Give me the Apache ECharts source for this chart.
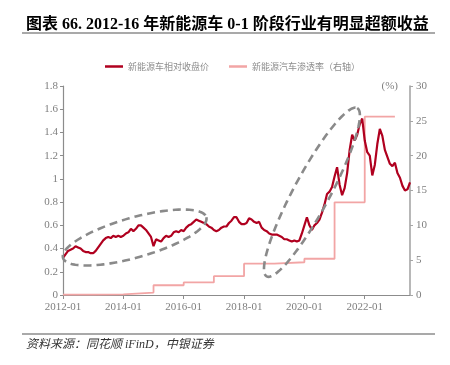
<!DOCTYPE html>
<html>
<head>
<meta charset="utf-8">
<script src="https://cdn.jsdelivr.net/npm/echarts@6/dist/echarts.min.js"></script>
<style>
  html, body { margin: 0; padding: 0; background: #fff; }
  #chart { width: 450px; height: 365px; }
</style>
</head>
<body>
<div id="chart"></div>
<script>
// x ticks every two years
const tickLabels = ['2012-01', '2014-01', '2016-01', '2018-01', '2020-01', '2022-01'];

// relative closing price, month by month from 2012-01 to 2023-07
const relPrice = [
  0.32, 0.35, 0.38, 0.39, 0.40, 0.42, 0.41, 0.40, 0.38, 0.37, 0.37, 0.36,
  0.36, 0.38, 0.41, 0.44, 0.47, 0.49, 0.50, 0.49, 0.51, 0.50, 0.51, 0.50,
  0.51, 0.53, 0.54, 0.57, 0.55, 0.57, 0.60, 0.60, 0.58, 0.56, 0.53, 0.50,
  0.42, 0.48, 0.47, 0.46, 0.49, 0.51, 0.50, 0.51, 0.54, 0.55, 0.54, 0.56,
  0.55, 0.58, 0.60, 0.61, 0.63, 0.65, 0.64, 0.63, 0.62, 0.61, 0.59, 0.58,
  0.56, 0.55, 0.56, 0.58, 0.59, 0.59, 0.62, 0.64, 0.67, 0.67, 0.63, 0.61,
  0.61, 0.62, 0.66, 0.65, 0.63, 0.62, 0.63, 0.58, 0.56, 0.55, 0.53, 0.52,
  0.52, 0.52, 0.51, 0.50, 0.48, 0.48, 0.47, 0.46, 0.47, 0.46, 0.47, 0.53,
  0.60, 0.67, 0.60, 0.56, 0.60, 0.62, 0.65, 0.71, 0.78, 0.87, 0.89, 0.93,
  1.02, 1.10, 0.95, 0.86, 0.92, 1.05, 1.25, 1.38, 1.33, 1.38, 1.47, 1.52,
  1.33, 1.23, 1.20, 1.03, 1.12, 1.30, 1.43, 1.37, 1.25, 1.19, 1.13, 1.11,
  1.14, 1.05, 1.01, 0.94, 0.90, 0.91, 0.97
];

// NEV penetration rate (%), yearly
const penYears = ['2012-01', '2013-01', '2014-01', '2015-01', '2016-01', '2017-01',
  '2018-01', '2019-01', '2020-01', '2021-01', '2022-01', '2023-01'];
const penRate = [0.05, 0.1, 0.35, 1.4, 1.8, 2.7, 4.5, 4.7, 5.2, 13.3, 25.6, 25.6];

const months = [];
for (let i = 0; i < relPrice.length; i++) {
  const y = 2012 + Math.floor(i / 12);
  const m = (i % 12) + 1;
  months.push(y + '-' + (m < 10 ? '0' + m : m));
}

const serif = '"Liberation Serif", "Noto Sans CJK SC", serif';
const gray = '#7f7f7f';

const chart = echarts.init(document.getElementById('chart'));
const option = {
  animation: false,
  title: {
    text: '图表 66. 2012-16 年新能源车 0-1 阶段行业有明显超额收益',
    left: 21,
    top: 12,
    textStyle: {
      fontSize: 16,
      fontWeight: 'bold',
      color: '#000',
      fontFamily: serif,
    },
  },
  legend: {
    left: 100,
    top: 57,
    itemWidth: 18,
    itemHeight: 2.5,
    itemGap: 20,
    icon: 'rect',
    textStyle: { fontSize: 9, color: '#8c8c8c', fontFamily: '"Noto Sans CJK SC", sans-serif' },
    data: ['新能源车相对收盘价', '新能源汽车渗透率（右轴）'],
  },
  grid: { left: 63, right: 40, top: 86, bottom: 70 },
  xAxis: {
    type: 'category',
    data: months,
    boundaryGap: false,
    axisLine: { lineStyle: { color: '#8c8c8c', width: 1.2 } },
    axisTick: {
      length: 4,
      interval: (idx) => idx % 24 === 0,
      lineStyle: { color: '#8c8c8c' },
    },
    axisLabel: {
      interval: (idx) => idx % 24 === 0,
      formatter: (v) => (tickLabels.indexOf(v) >= 0 ? v : ''),
      color: gray,
      fontSize: 11,
      fontFamily: serif,
      margin: 7,
    },
  },
  yAxis: [
    {
      type: 'value',
      min: 0,
      max: 1.8,
      interval: 0.2,
      splitLine: { show: false },
      axisLine: { show: true, lineStyle: { color: '#8c8c8c', width: 1.2 } },
      axisTick: { show: true, length: 3, lineStyle: { color: '#8c8c8c' } },
      axisLabel: { color: gray, fontSize: 11, fontFamily: serif, margin: 5 },
    },
    {
      type: 'value',
      min: 0,
      max: 30,
      interval: 5,
      name: '(%)',
      nameLocation: 'end',
      nameGap: 0,
      nameTextStyle: {
        color: gray,
        fontSize: 11,
        fontFamily: serif,
        align: 'right',
        verticalAlign: 'middle',
        padding: [0, 12, 0, 0],
      },
      splitLine: { show: false },
      axisLine: { show: true, lineStyle: { color: '#a6a6a6', width: 1.6 } },
      axisTick: { show: true, length: 3, lineStyle: { color: '#a6a6a6' } },
      axisLabel: { color: gray, fontSize: 11, fontFamily: serif, margin: 6 },
    },
  ],
  series: [
    {
      name: '新能源车相对收盘价',
      type: 'line',
      data: relPrice,
      symbol: 'none',
      color: '#b0001f',
      lineStyle: { width: 2.2, color: '#b0001f' },
      z: 3,
    },
    {
      name: '新能源汽车渗透率（右轴）',
      type: 'line',
      yAxisIndex: 1,
      step: 'end',
      data: penYears.map((d, i) => [d, penRate[i]]),
      symbol: 'none',
      color: '#f2a5a5',
      lineStyle: { width: 1.8, color: '#f2a5a5' },
      z: 2,
    },
  ],
};
chart.setOption(option);

// dashed ellipse annotations, anchored by their two ends in data space
function ellipsePoints(p1, p2, b) {
  const a1 = chart.convertToPixel({ xAxisIndex: 0, yAxisIndex: 0 }, p1);
  const a2 = chart.convertToPixel({ xAxisIndex: 0, yAxisIndex: 0 }, p2);
  const cx = (a1[0] + a2[0]) / 2;
  const cy = (a1[1] + a2[1]) / 2;
  const dx = a2[0] - a1[0];
  const dy = a2[1] - a1[1];
  const a = Math.sqrt(dx * dx + dy * dy) / 2;
  const ux = dx / (2 * a);
  const uy = dy / (2 * a);
  const pts = [];
  for (let k = 0; k < 120; k++) {
    const t = (k / 120) * Math.PI * 2;
    const c = Math.cos(t) * a;
    const s = Math.sin(t) * b;
    pts.push([cx + ux * c - uy * s, cy + uy * c + ux * s]);
  }
  return pts;
}

const dashStyle = {
  fill: 'none',
  stroke: '#8a8a8a',
  lineWidth: 2.6,
  lineDash: [8, 5],
};

chart.setOption({
  graphic: [
    {
      type: 'polygon',
      shape: { points: ellipsePoints([0, 0.32], [57, 0.67], 20) },
      style: dashStyle,
      z: 10,
    },
    {
      type: 'polygon',
      shape: { points: ellipsePoints([81.4, 0.16], [117.2, 1.61], 18) },
      style: dashStyle,
      z: 10,
    },
    {
      type: 'line',
      shape: { x1: 22, y1: 33, x2: 435, y2: 33 },
      style: { stroke: '#8c8c8c', lineWidth: 1.5 },
    },
    {
      type: 'line',
      shape: { x1: 22, y1: 334, x2: 435, y2: 334 },
      style: { stroke: '#8c8c8c', lineWidth: 1.5 },
    },
    {
      type: 'text',
      left: 26,
      top: 339,
      style: {
        text: '资料来源：同花顺 iFinD，中银证券',
        fill: '#333',
        fontSize: 12,
        fontStyle: 'italic',
        fontFamily: serif,
      },
    },
  ],
});
</script>
</body>
</html>
